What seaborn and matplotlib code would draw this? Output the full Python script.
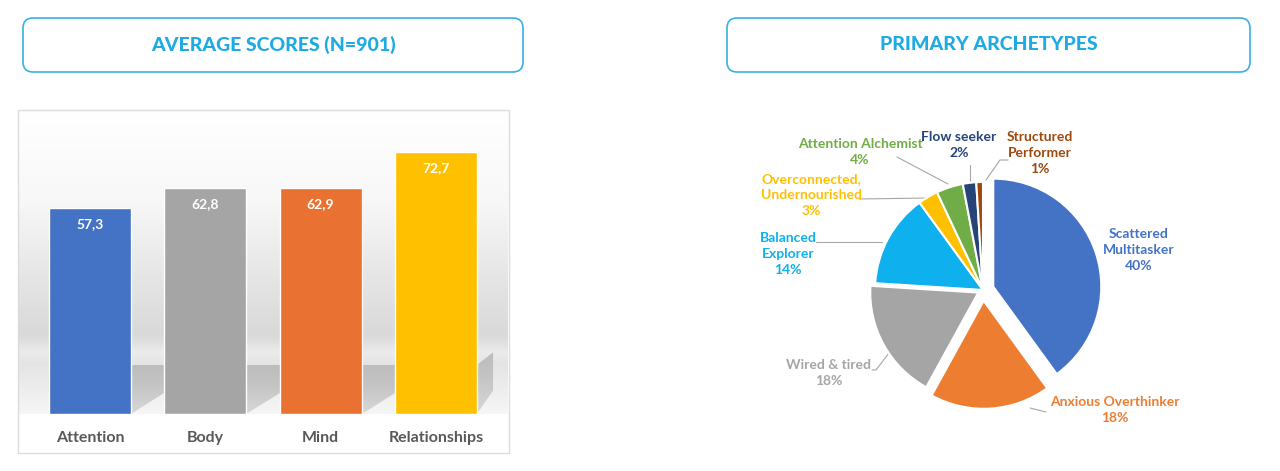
import numpy as np
import pandas as pd
import matplotlib
matplotlib.use("Agg")
import matplotlib.pyplot as plt
import seaborn as sns
from matplotlib.patches import FancyBboxPatch, Rectangle, Polygon
from matplotlib.colors import LinearSegmentedColormap

# ---------------- data ----------------
categories = ["Attention", "Body", "Mind", "Relationships"]
scores = [57.3, 62.8, 62.9, 72.7]
bar_colors = ["#4472C4", "#A5A5A5", "#E97132", "#FFC000"]

archetypes = ["Scattered\nMultitasker", "Anxious Overthinker", "Wired & tired",
              "Balanced\nExplorer", "Overconnected,\nUndernourished",
              "Attention Alchemist", "Flow seeker", "Structured\nPerformer"]
shares = [40, 18, 18, 14, 3, 4, 2, 1]
pie_colors = ["#4472C4", "#ED7D31", "#A5A5A5", "#0FB0EE", "#FFC000",
              "#70AD47", "#264478", "#9E480E"]
label_colors = ["#4472C4", "#ED7D31", "#A5A5A5", "#0FB0EE", "#FFC000",
                "#70AD47", "#264478", "#9E480E"]

title_left = "AVERAGE SCORES (N=901)"
title_right = "PRIMARY ARCHETYPES"

# ---------------- style ----------------
sns.set_theme(style="white")
plt.rcParams["font.family"] = ["Lato", "DejaVu Sans"]

W, H = 1280, 471
fig = plt.figure(figsize=(W / 100, H / 100), dpi=100)
fig.patch.set_facecolor("white")

def fx(px):
    return px / W

def fy(py):
    return 1 - py / H

# ---------------- header boxes ----------------
head_col = "#1EAAE3"
for (x0, x1, txt) in [(23, 523, title_left), (727, 1250, title_right)]:
    box = FancyBboxPatch(((x0) / 100, (H - 72) / 100), (x1 - x0) / 100, 0.54,
                         boxstyle="round,pad=0,rounding_size=0.1",
                         transform=fig.dpi_scale_trans, facecolor="none",
                         edgecolor="#3AAFE6", linewidth=1.2)
    fig.patches.append(box)
    fig.text(fx((x0 + x1) / 2), fy(45), txt, ha="center", va="center",
             fontsize=14, fontweight=900, color=head_col)

# ---------------- bar chart ----------------
frame = Rectangle((18 / 100, (H - 453) / 100), 491 / 100, 343 / 100,
                  transform=fig.dpi_scale_trans, facecolor="none",
                  edgecolor="#DCDCDC", linewidth=1.0, zorder=5)
fig.patches.append(frame)

ax = fig.add_axes([fx(19), fy(414), 489 / W, 303 / H])
df = pd.DataFrame({"category": categories, "score": scores})
sns.barplot(data=df, x="category", y="score", hue="category",
            palette=bar_colors, width=0.71, saturation=1, legend=False, ax=ax,
            zorder=3)
xlo, xhi = -0.615, 3.625
ylo, yhi = 0, 84.2
ax.set_xlim(xlo, xhi)
ax.set_ylim(ylo, yhi)

bars = list(ax.patches)

# wall gradient
stops = [(0.0, "#f6f6f6"), (14 / yhi, "#e4e4e4"), (17 / yhi, "#ebebeb"),
         (22 / yhi, "#d9d9d9"), (35 / yhi, "#e3e3e3"), (60 / yhi, "#f8f8f8"),
         (1.0, "#ffffff")]
cmap = LinearSegmentedColormap.from_list("wall", stops)
grad = np.linspace(0, 1, 256).reshape(-1, 1)
ax.imshow(grad, cmap=cmap, extent=[xlo, xhi, ylo, yhi], origin="lower",
          aspect="auto", zorder=0, interpolation="bicubic", vmin=0, vmax=1)

# floor shadows derived from bar geometry
shadow_top = 13.6
shadow_polys = []
for i, b in enumerate(bars):
    xr = b.get_x() + b.get_width()
    if i + 1 < len(bars):
        xn = bars[i + 1].get_x()
        shadow_polys.append([(xr, 0), (xr, shadow_top), (xn, shadow_top), (xn, 5.8)])
    else:
        xn = xhi - 0.13
        shadow_polys.append([(xr, 0), (xr, shadow_top), (xn, shadow_top + 3.5), (xn, 6.5)])
cmap_s = LinearSegmentedColormap.from_list("sh", [(0, "#d8d8d8"), (0.6, "#c4c4c4"), (1, "#bdbdbd")])
gs = np.linspace(0, 1, 128).reshape(-1, 1)
for poly in shadow_polys:
    p = Polygon(poly, closed=True, transform=ax.transData, facecolor="none",
                edgecolor="none")
    ax.add_patch(p)
    ys = [v[1] for v in poly]
    im = ax.imshow(gs, cmap=cmap_s, extent=[xlo, xhi, 0, max(ys)],
                   origin="lower", aspect="auto", zorder=1,
                   interpolation="bicubic")
    im.set_clip_path(p)
ax.set_xlim(xlo, xhi)
ax.set_ylim(ylo, yhi)

for b, v in zip(bars, scores):
    ax.annotate(f"{v:.1f}".replace(".", ","),
                (b.get_x() + b.get_width() / 2, b.get_height()),
                xytext=(0, -16), textcoords="offset pixels",
                ha="center", va="center", color="white", fontsize=10,
                fontweight="bold", zorder=5)

ax.set_xlabel("")
ax.set_ylabel("")
ax.set_yticks([])
ax.tick_params(axis="x", length=0, pad=12, labelsize=11.5, labelcolor="#595959")
for lab in ax.get_xticklabels():
    lab.set_fontweight("bold")
for s in ax.spines.values():
    s.set_visible(False)

# ---------------- pie chart ----------------
cx, cy, R = 983, 290, 108
ax2 = fig.add_axes([fx(740), fy(460), 490 / W, 350 / H])
explode = [0.1, 0.1, 0.05, 0, 0, 0, 0, 0]
ax2.pie(shares, colors=pie_colors, startangle=90, counterclock=False,
        explode=explode, wedgeprops=dict(edgecolor="white", linewidth=1.5))
ax2.set_aspect("auto")
ax2.set_xlim((740 - cx) / R, (1230 - cx) / R)
ax2.set_ylim((cy - 460) / R, (cy - 110) / R)
ax2.axis("off")

def d(px, py):
    return ((px - cx) / R, (cy - py) / R)

label_pos = [(1139, 250), (1115, 410), (829, 373), (788, 254),
             (811, 195), (860, 152), (959, 145), (1040, 153)]
leaders = [None,
           [(1046, 412), (1030, 408)],
           [(872, 370), (876, 370), (889, 353)],
           [(816, 242), (882, 242)],
           [(859, 199), (928, 198)],
           [(897, 157), (948, 184)],
           [(970, 165), (970, 181)],
           [(1008, 160), (1000, 160), (986, 180)]]

for name, val, col, pos, ld in zip(archetypes, shares, label_colors, label_pos, leaders):
    x, y = d(*pos)
    ax2.text(x, y, f"{name}\n{val}%", ha="center", va="center", color=col,
             fontsize=10, fontweight="bold", linespacing=1.4)
    if ld:
        pts = [d(*p) for p in ld]
        ax2.plot([p[0] for p in pts], [p[1] for p in pts], color="#A6A6A6",
                 linewidth=0.8, zorder=0)

fig.savefig("out.png", dpi=100, facecolor="white")
